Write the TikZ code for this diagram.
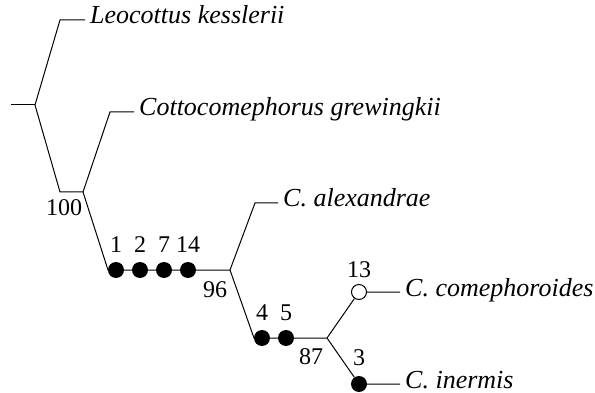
\documentclass[tikz,border=0pt]{standalone}
\usepackage{fontspec}
\setmainfont{Liberation Serif}[ItalicFont={Liberation Serif Italic}]
\usetikzlibrary{positioning}

\begin{document}
\begin{tikzpicture}[
        x=1pt, y=-1pt,
        branch/.style={line width=1pt},
        dot/.style={circle, fill=black, inner sep=0pt, minimum size=16pt},
        opendot/.style={circle, draw, fill=white, line width=1pt, inner sep=0pt, minimum size=15pt},
        taxon/.style={anchor=west, inner xsep=5pt, inner ysep=0pt, text height=0.8em, text depth=0pt, font=\fontsize{26}{30}\selectfont\itshape},
        num/.style={inner sep=0pt, font=\fontsize{24}{28}\selectfont}
    ]
        \useasboundingbox (0,0) rectangle (595,393);

        \coordinate (root0) at (11,105);
        \coordinate (root) at (35,105);
        \coordinate (cLk) at (60,20);
        \coordinate (c100) at (60,192);
        \coordinate (n100) at (83,192);
        \coordinate (cCg) at (110,112);
        \coordinate (c96) at (108,270);
        \coordinate (n96) at (230,270);
        \coordinate (cCa) at (255,203);
        \coordinate (c87) at (254,338);
        \coordinate (n87) at (327,338);

        \node[taxon] (lk) at (85,20) {Leocottus kesslerii};
        \node[taxon] (cg) at (134,112) {Cottocomephorus grewingkii};
        \node[taxon] (ca) at (278,203) {C. alexandrae};
        \node[taxon] (cc) at (400,292) {C. comephoroides};
        \node[taxon] (ci) at (400,384) {C. inermis};

        \node[dot] (d1) at (116,270) {};
        \node[dot] (d2) at (140,270) {};
        \node[dot] (d7) at (164,270) {};
        \node[dot] (d14) at (188,270) {};
        \node[dot] (d4) at (262,338) {};
        \node[dot] (d5) at (286,338) {};
        \node[opendot] (d13) at (359,292) {};
        \node[dot] (d3) at (359,384) {};

        \node[num, above=9pt of d1] (l1) {1};
        \node[num, above=9pt of d2] (l2) {2};
        \node[num, above=9pt of d7] (l7) {7};
        \node[num, above=9pt of d14] (l14) {14};
        \node[num, above=9pt of d4] (l4) {4};
        \node[num, above=9pt of d5] (l5) {5};
        \node[num, above=6pt of d13] (l13) {13};
        \node[num, above=10pt of d3] (l3) {3};

        \node[num] (b100) at (64,208) {100};
        \node[num] (b96) at (215,290) {96};
        \node[num] (b87) at (311,357) {87};

        \draw[branch] (root0) -- (root);
        \draw[branch] (lk.west) -- (cLk) -- (root) -- (c100) -- (n100);
        \draw[branch] (n100) -- (cCg) -- (cg.west);
        \draw[branch] (n100) -- (c96) -- (d1) -- (d2) -- (d7) -- (d14) -- (n96);
        \draw[branch] (n96) -- (cCa) -- (ca.west);
        \draw[branch] (n96) -- (c87) -- (d4) -- (d5) -- (n87);
        \draw[branch] (n87) -- (d13) -- (cc.west);
        \draw[branch] (n87) -- (d3) -- (ci.west);
    \end{tikzpicture}
\end{document}
